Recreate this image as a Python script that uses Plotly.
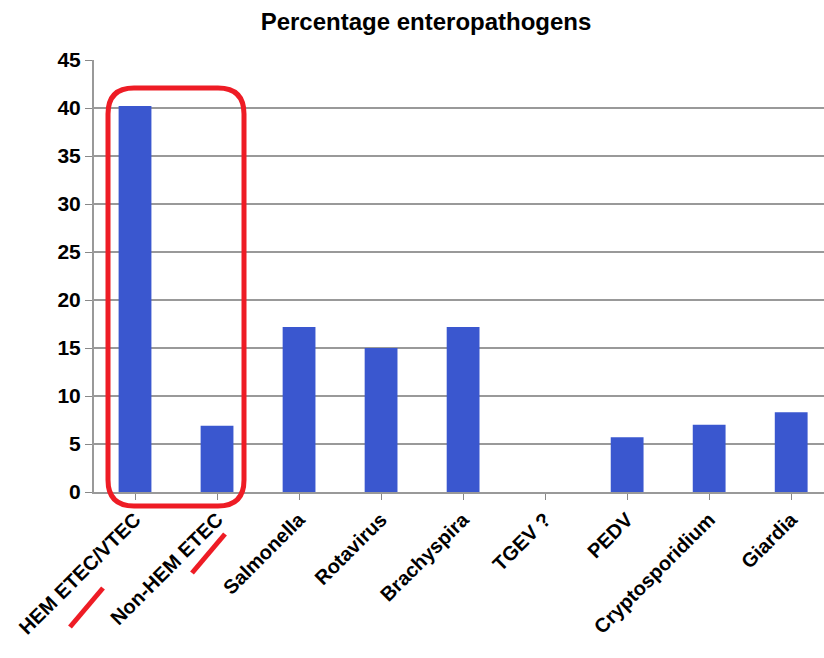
import plotly.graph_objects as go

categories = ["HEM ETEC/VTEC", "Non-HEM ETEC", "Salmonella", "Rotavirus", "Brachyspira",
              "TGEV ?", "PEDV", "Cryptosporidium", "Giardia"]
values = [40.2, 6.9, 17.2, 15.0, 17.2, 0, 5.7, 7.0, 8.3]
y_ticks = list(range(0, 50, 5))

W, H = 824, 658
L, R, T, B = 94, 0, 60, 166
pw, ph = W - L - R, H - T - B

def px(x):
    return (x - L) / pw

def py(y):
    return (H - B - y) / ph

fig = go.Figure()
fig.add_trace(go.Bar(x=list(range(len(categories))), y=values, width=0.4,
                     marker=dict(color="#3a57cf", line=dict(width=0))))

# red rounded rectangle around first two bars (paper coords so it is not clipped)
x0, x1, y0, y1 = px(108), px(244), py(506), py(88)
rx, ry = px(134) - px(108), py(88) - py(114)
path = (f"M {x0+rx},{y1} L {x1-rx},{y1} Q {x1},{y1} {x1},{y1-ry} "
        f"L {x1},{y0+ry} Q {x1},{y0} {x1-rx},{y0} L {x0+rx},{y0} "
        f"Q {x0},{y0} {x0},{y0+ry} L {x0},{y1-ry} Q {x0},{y1} {x0+rx},{y1} Z")
fig.add_shape(type="path", path=path, xref="paper", yref="paper",
              line=dict(color="#ee1c25", width=5), layer="above")

# red underline strokes under "ETEC"
for (ax, ay, bx, by) in [(70, 627, 103, 588), (192, 573, 225, 534)]:
    fig.add_shape(type="line", xref="paper", yref="paper",
                  x0=px(ax), y0=py(ay), x1=px(bx), y1=py(by),
                  line=dict(color="#ee1c25", width=5))

fig.update_layout(
    width=W, height=H,
    margin=dict(l=L, r=R, t=T, b=B, pad=0),
    paper_bgcolor="white", plot_bgcolor="white",
    showlegend=False,
    title=dict(text="<b>Percentage enteropathogens</b>", x=0.517, xanchor="center",
               y=1 - 22 / H, yanchor="middle",
               font=dict(family="Liberation Sans, Arial", size=24, color="black")),
    xaxis=dict(range=[-0.5, 8.4], tickmode="array", tickvals=list(range(len(categories))),
               ticktext=[f"<b>{c}</b>" for c in categories], tickangle=-45,
               tickson="boundaries", ticks="outside", ticklen=6, tickcolor="#888",
               showline=True, linecolor="#999", linewidth=2, showgrid=False,
               tickfont=dict(family="Liberation Sans, Arial", size=20, color="black")),
    yaxis=dict(range=[0, 45], tickvals=y_ticks, ticktext=[f"<b>{v}</b>" for v in y_ticks],
               ticks="outside", ticklen=7, tickcolor="#888",
               showline=True, linecolor="#999", linewidth=2,
               showgrid=True, gridcolor="#999", gridwidth=2, zeroline=False,
               tickfont=dict(family="Liberation Sans, Arial", size=21, color="black")),
    bargap=0.6,
)

fig.write_html("out.html")
